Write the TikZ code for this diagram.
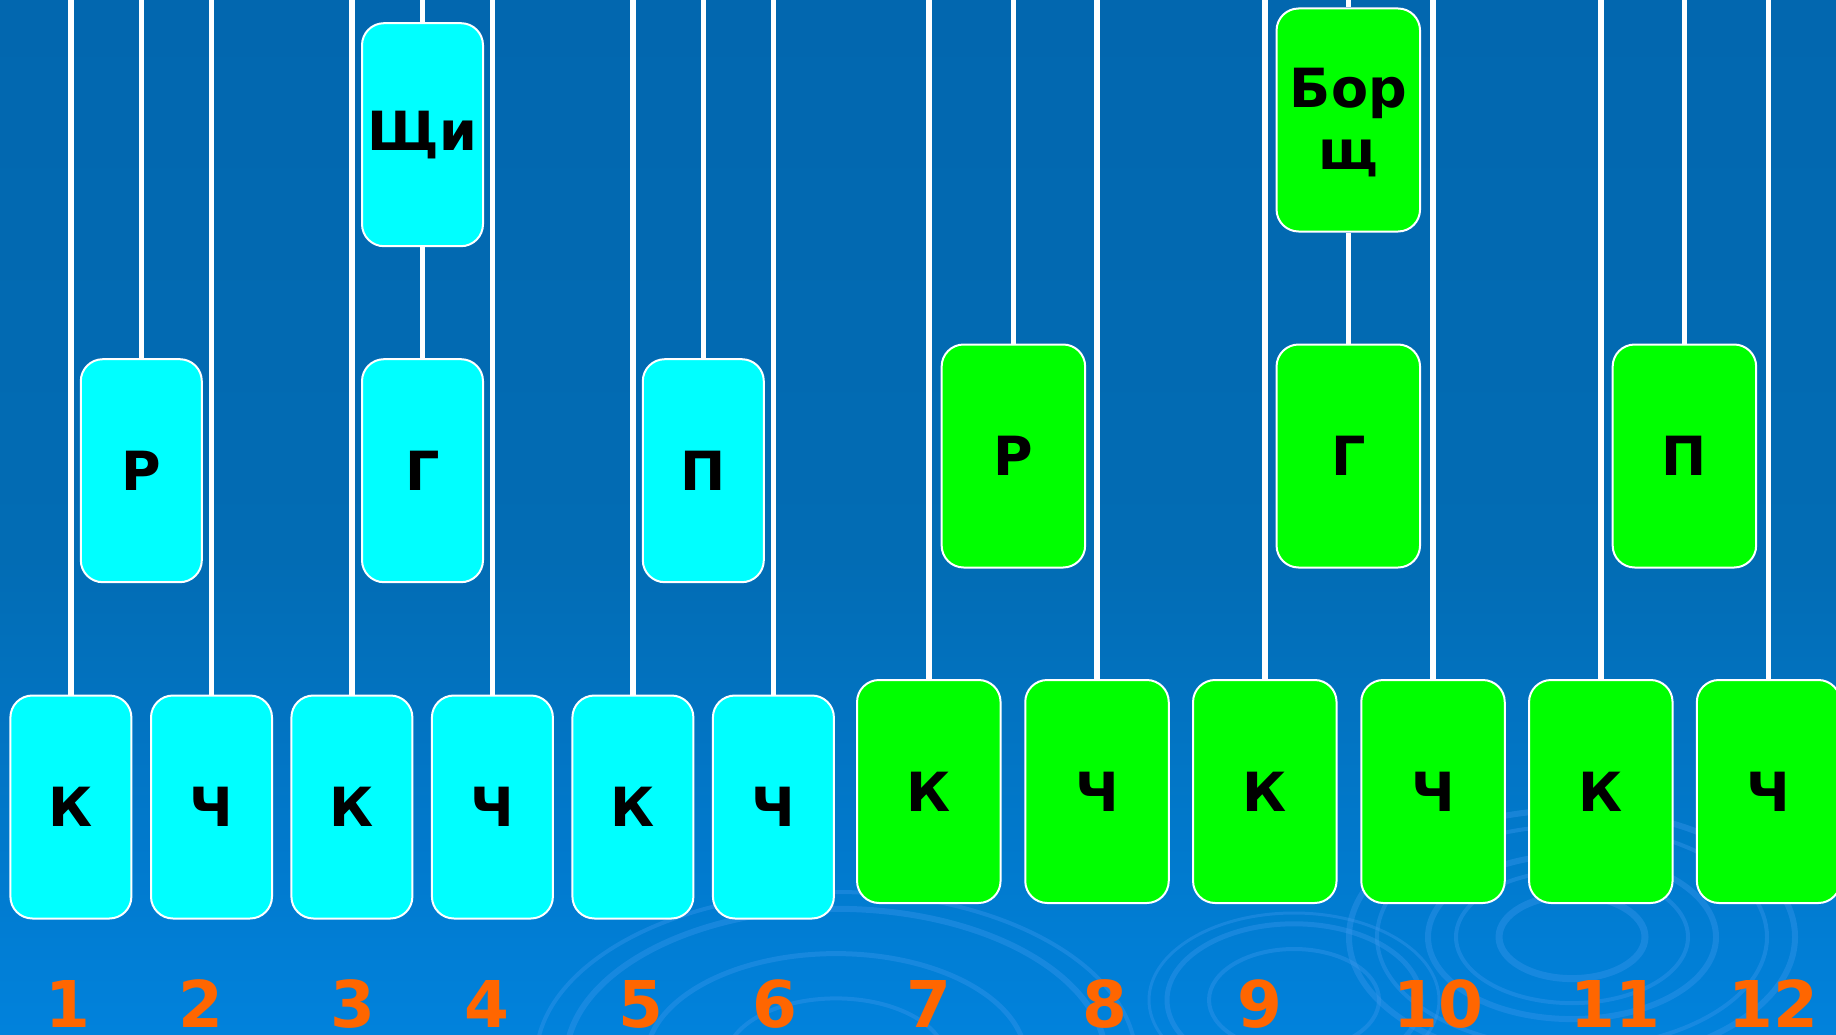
\documentclass[tikz,border=0pt]{standalone}
\usepackage{fontspec}
\setmainfont{DejaVu Sans}
\definecolor{bgtop}{HTML}{0267AF}
\definecolor{bgmid}{HTML}{026CB4}
\definecolor{bgbot}{HTML}{0182DC}
\definecolor{ripple}{HTML}{3A97EC}
\definecolor{cyanbox}{HTML}{00FFFF}
\definecolor{greenbox}{HTML}{00FF00}
\definecolor{numorange}{HTML}{FF6600}
\begin{document}
\begin{tikzpicture}[x=1pt,y=-1pt,
  card/.style={draw=white, line width=2, rounded corners=22, inner sep=0pt,
    font=\fontsize{54}{62}\selectfont\bfseries, text=black, align=center},
  cyancard/.style={card, fill=cyanbox, minimum width=121, minimum height=223},
  greencard/.style={card, fill=greenbox, minimum width=143.5, minimum height=223},
  string/.style={draw=white, line width=5.5},
  numlabel/.style={text=numorange, font=\fontsize{64.5}{70}\selectfont\bfseries, inner sep=0pt, anchor=base},
  ring/.style={draw=ripple, line width=5, opacity=0.4}
]
\useasboundingbox (0,0) rectangle (1836,1035);
% background
\shade[top color=bgtop, bottom color=bgmid] (0,0) rectangle (1836,560);
\shade[top color=bgmid, bottom color=bgbot] (0,559) rectangle (1836,1035);
% ripples
\begin{scope}
\clip (0,0) rectangle (1836,1035);
\foreach \r/\w in {73/7, 116/4, 144/6, 195/4, 223/6}
  \draw[ring, line width=\w] (1572,937) ellipse [x radius=\r, y radius=0.57*\r];
\foreach \r/\w in {110/4, 190/5, 270/6, 300/4}
  \draw[ring, line width=\w] (836,1060) ellipse [x radius=\r, y radius=0.56*\r];
\foreach \r/\w in {85/4, 127/5, 145/3}
  \draw[ring, line width=\w] (1294,1000) ellipse [x radius=\r, y radius=0.6*\r];
\end{scope}
% bottom row
\node[cyancard] (c1) at (70.9,807) {К};
\node[cyancard] (c2) at (211.5,807) {Ч};
\node[cyancard] (c3) at (351.9,807) {К};
\node[cyancard] (c4) at (492.4,807) {Ч};
\node[cyancard] (c5) at (632.9,807) {К};
\node[cyancard] (c6) at (773.4,807) {Ч};
\node[greencard] (c7) at (928.8,791.5) {К};
\node[greencard] (c8) at (1097,791.5) {Ч};
\node[greencard] (c9) at (1264.8,791.5) {К};
\node[greencard] (c10) at (1433,791.5) {Ч};
\node[greencard] (c11) at (1600.8,791.5) {К};
\node[greencard] (c12) at (1768.6,791.5) {Ч};
% middle row
\node[cyancard] (m1) at (141.3,470.7) {Р};
\node[cyancard] (m2) at (422.5,470.7) {Г};
\node[cyancard] (m3) at (703.3,470.7) {П};
\node[greencard] (m4) at (1013.4,456) {Р};
\node[greencard] (m5) at (1348.3,456) {Г};
\node[greencard] (m6) at (1684.4,456) {П};
% top row
\node[cyancard] (t1) at (422.5,134.7) {Щи};
\node[greencard] (t2) at (1348.3,120) {\rule{0pt}{45pt}Бор\\щ};
% strings
\foreach \n in {c1,c2,c3,c4,c5,c6,c7,c8,c9,c10,c11,c12,m1,m3,m4,m6,t1,t2}{
  \coordinate (u-\n) at (\n.north |- 0,-3);
  \draw[string] (u-\n) -- (\n.north);
}
\draw[string] (t1.south) -- (m2.north);
\draw[string] (t2.south) -- (m5.north);
% numbers
\node[numlabel] (n1) at (67.5,1027) {1};
\node[numlabel] (n2) at (200.6,1027) {2};
\node[numlabel] (n3) at (353,1027) {3};
\node[numlabel] (n4) at (486.7,1027) {4};
\node[numlabel] (n5) at (640.5,1027) {5};
\node[numlabel] (n6) at (774.5,1027) {6};
\node[numlabel] (n7) at (928.5,1027) {7};
\node[numlabel] (n8) at (1105,1027) {8};
\node[numlabel] (n9) at (1260,1027) {9};
\node[numlabel] (n10) at (1438,1027) {10};
\node[numlabel] (n11) at (1615,1027) {11};
\node[numlabel] (n12) at (1773,1027) {12};
\end{tikzpicture}
\end{document}
